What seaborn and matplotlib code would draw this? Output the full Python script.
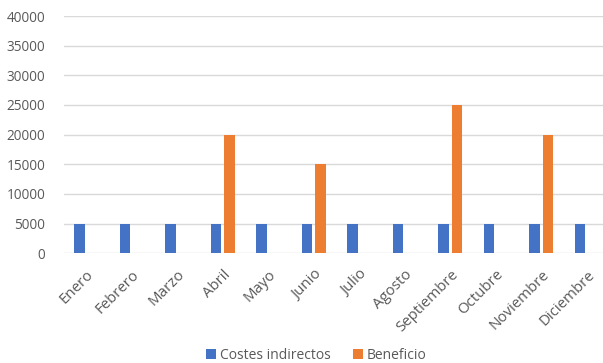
import matplotlib
matplotlib.use("Agg")
import matplotlib.pyplot as plt
import seaborn as sns
import pandas as pd

meses = ["Enero", "Febrero", "Marzo", "Abril", "Mayo", "Junio", "Julio",
         "Agosto", "Septiembre", "Octubre", "Noviembre", "Diciembre"]
costes_indirectos = [5000] * 12
beneficio = [0, 0, 0, 20000, 0, 15000, 0, 0, 25000, 0, 20000, 0]
series = ["Costes indirectos", "Beneficio"]
colores = ["#4472C4", "#ED7D31"]
yticks = [0, 5000, 10000, 15000, 20000, 25000, 30000, 35000, 40000]

df = pd.DataFrame({
    "Mes": meses * 2,
    "Serie": [series[0]] * 12 + [series[1]] * 12,
    "Valor": costes_indirectos + beneficio,
})

sns.set_theme(style="white")
plt.rcParams["font.family"] = ["Open Sans", "DejaVu Sans"]
texto = "#595959"

fig = plt.figure(figsize=(6.03, 3.63), dpi=100)
ax = fig.add_axes([0.1055, 0.3022, 0.9055, 0.6537])

sns.barplot(data=df, x="Mes", y="Valor", hue="Serie", order=meses,
            hue_order=series, palette=colores, width=0.59, gap=0.22,
            saturation=1, linewidth=0, ax=ax, legend=True)

ax.set_xlim(-0.5, 11.5)
ax.set_ylim(0, 40000)
ax.set_yticks(yticks)
ax.set_yticklabels([str(v) for v in yticks])
ax.yaxis.grid(True, color="#d9d9d9", linewidth=1)
ax.set_axisbelow(True)
for s in ax.spines.values():
    s.set_visible(False)
ax.set_xlabel("")
ax.set_ylabel("")
ax.tick_params(axis="y", length=0, pad=13, labelsize=9.8, labelcolor=texto)
ax.tick_params(axis="x", length=0, pad=10, labelsize=10.8, labelcolor=texto)
for lbl in ax.get_xticklabels():
    lbl.set_rotation(45)
    lbl.set_ha("right")
    lbl.set_rotation_mode("anchor")

handles, labels = ax.get_legend_handles_labels()
ax.get_legend().remove()
fig.legend(handles, labels, loc="center", bbox_to_anchor=(0.525, 0.022),
           ncol=2, frameon=False, fontsize=10, labelcolor=texto,
           handlelength=0.7, handleheight=0.7, handletextpad=0.3,
           columnspacing=1.6)

fig.savefig("out.png", dpi=100)
